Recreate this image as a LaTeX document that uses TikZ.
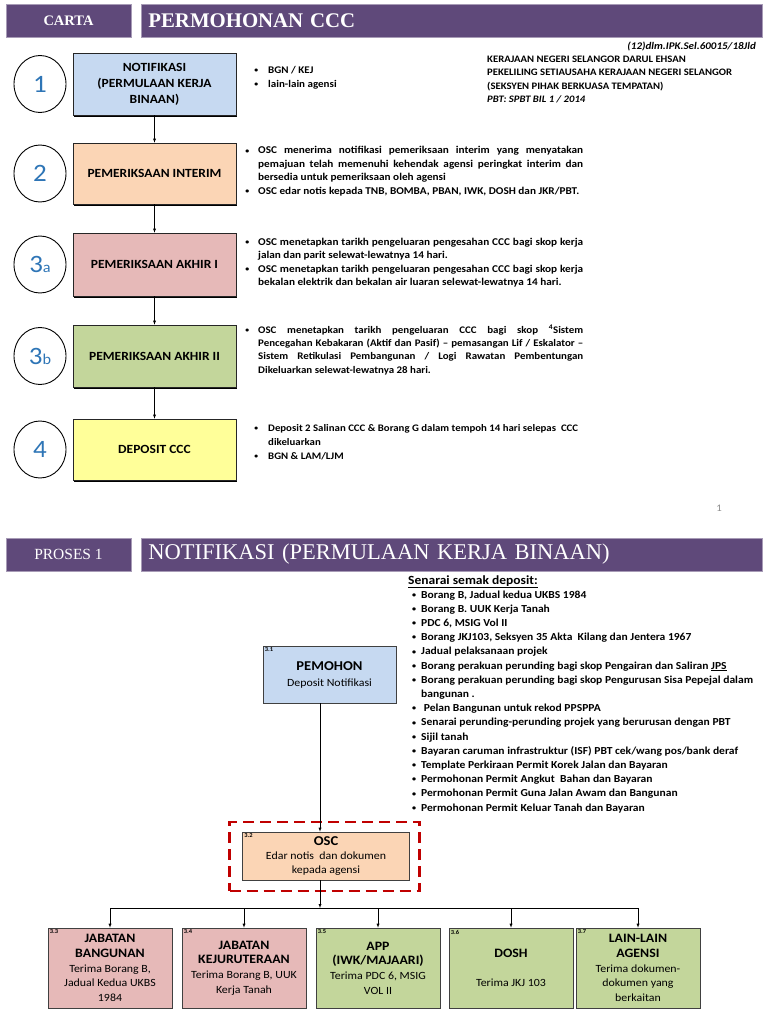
\documentclass[tikz,border=0pt]{standalone}
\usepackage{fontspec}
\setmainfont[FakeStretch=1.08]{Carlito}
\newfontfamily\hdrfont{Liberation Serif}
\usetikzlibrary{shapes.geometric,shadows}
\definecolor{hdrpurple}{RGB}{95,73,122}
\definecolor{bluebox}{RGB}{198,217,241}
\definecolor{peachbox}{RGB}{251,213,181}
\definecolor{pinkbox}{RGB}{230,185,184}
\definecolor{greenbox}{RGB}{195,214,155}
\definecolor{yellowbox}{RGB}{255,255,153}
\definecolor{numblue}{RGB}{46,117,182}
\definecolor{darkred}{RGB}{192,0,0}
\newcommand\itm[1][9pt]{\leavevmode\llap{\raisebox{0.15ex}{\scalebox{0.7}{\textbullet}}\hspace{#1}}}
\newcommand\ttl[1]{{\bfseries\fontsize{12.8}{14.6}\selectfont #1}}

\begin{document}
\begin{tikzpicture}[x=1pt, y=-1pt, >=latex]
    \tikzstyle{header}=[fill=hdrpurple, draw=hdrpurple!55!white, line width=0.8pt, inner sep=0pt, minimum height=33pt, text=white]
    \tikzstyle{stage}=[draw=black!85, line width=0.6pt, minimum width=163pt, minimum height=62pt, align=center, font=\bfseries\fontsize{12.5}{16}\selectfont, drop shadow={shadow xshift=1.2pt, shadow yshift=-1.6pt, fill=black, opacity=1}]
    \tikzstyle{num}=[ellipse, draw, line width=0.9pt, minimum width=52pt, minimum height=57pt, inner sep=0pt, text=numblue, font=\fontsize{25}{25}\selectfont]
    \tikzstyle{note}=[anchor=base west, inner sep=0pt, font=\bfseries\fontsize{10.4}{13.4}\selectfont]
    \tikzstyle{box}=[draw=black!75, line width=0.6pt, align=center, inner sep=2pt, drop shadow={shadow xshift=0.8pt, shadow yshift=-1pt, fill=black!70, opacity=1}]
    \tikzstyle{agensi}=[box, minimum width=124pt, minimum height=80pt, font=\fontsize{11}{14.6}\selectfont]
    \tikzstyle{tag}=[anchor=north west, inner sep=2pt, font=\bfseries\fontsize{6}{6}\selectfont]
    \useasboundingbox (0,0) rectangle (768,1024);
    % carta
    \node[header, minimum width=125pt, font=\hdrfont\bfseries\fontsize{14.5}{14.5}\selectfont] (carta) at (68.5,20.5) {CARTA};
    \node[header, anchor=west, inner xsep=7pt, text width=607pt, align=left, font=\hdrfont\bfseries\fontsize{20.8}{20.8}\selectfont] (judul) at (141,20.5) {PERMOHONAN CCC};
    \node[anchor=base east, inner sep=0pt, font=\bfseries\itshape\fontsize{10.2}{10.2}\selectfont] (ruj) at (756,50) {(12)dlm.IPK.Sel.60015/18Jld};
    \node[note, font=\bfseries\fontsize{9.9}{13.4}\selectfont] (pekeliling) at (487,62.5) {\parbox[t]{280pt}{KERAJAAN NEGERI SELANGOR DARUL EHSAN\\PEKELILING SETIAUSAHA KERAJAAN NEGERI SELANGOR\\(SEKSYEN PIHAK BERKUASA TEMPATAN)\\\textit{PBT: SPBT BIL 1 / 2014}}};
    \node[stage, fill=bluebox] (n1) at (154.5,84) {NOTIFIKASI\\(PERMULAAN KERJA\\BINAAN)};
    \node[stage, fill=peachbox, minimum height=61pt] (n2) at (154.5,173.5) {PEMERIKSAAN INTERIM};
    \node[stage, fill=pinkbox, minimum height=63pt] (n3a) at (154.5,264.5) {PEMERIKSAAN AKHIR I};
    \node[stage, fill=greenbox] (n3b) at (154.5,356) {PEMERIKSAAN AKHIR II};
    \node[stage, fill=yellowbox, minimum height=61pt] (n4) at (154.5,449.5) {DEPOSIT CCC};
    \node[num] (c1) at (40,84) {1};
    \node[num] (c2) at (40,173.5) {2};
    \node[num] (c3a) at (40,264.5) {3{\fontsize{15}{15}\selectfont a}};
    \node[num] (c3b) at (40,356) {3{\fontsize{15}{15}\selectfont b}};
    \node[num] (c4) at (40,449.5) {4};
    \draw[->] (n1) -- (n2);
    \draw[->] (n2) -- (n3a);
    \draw[->] (n3a) -- (n3b);
    \draw[->] (n3b) -- (n4);
    \node[note, font=\bfseries\fontsize{10.2}{14}\selectfont] (t1) at (268,73.5) {\parbox[t]{200pt}{\itm[10pt]BGN / KEJ\\\itm[10pt]lain-lain agensi}};
    \node[note] (t2) at (258,154) {\parbox[t]{325pt}{\itm OSC menerima notifikasi pemeriksaan interim yang menyatakan\linebreak pemajuan telah memenuhi kehendak agensi peringkat interim dan\linebreak bersedia untuk pemeriksaan oleh agensi\par\itm OSC edar notis kepada TNB, BOMBA, PBAN, IWK, DOSH dan JKR/PBT.}};
    \node[note] (t3a) at (258,245.5) {\parbox[t]{325pt}{\itm OSC menetapkan tarikh pengeluaran pengesahan CCC bagi skop kerja\linebreak jalan dan parit selewat-lewatnya 14 hari.\par\itm OSC menetapkan tarikh pengeluaran pengesahan CCC bagi skop kerja\linebreak bekalan elektrik dan bekalan air luaran selewat-lewatnya 14 hari.}};
    \node[note, font=\bfseries\fontsize{10.1}{13.2}\selectfont] (t3b) at (258,333.5) {\parbox[t]{325pt}{\itm OSC menetapkan tarikh pengeluaran CCC bagi skop \textsuperscript{4}Sistem\linebreak Pencegahan Kebakaran (Aktif dan Pasif) -- pemasangan Lif / Eskalator --\linebreak Sistem Retikulasi Pembangunan / Logi Rawatan Pembentungan\linebreak Dikeluarkan selewat-lewatnya 28 hari.}};
    \node[note, font=\bfseries\fontsize{10}{14}\selectfont] (t4) at (268,431.5) {\parbox[t]{320pt}{\raggedright\itm[10pt]Deposit 2 Salinan CCC \& Borang G dalam tempoh 14 hari selepas~ CCC\\dikeluarkan\par\itm[10pt]BGN \& LAM/LJM}};
    \node[text=black!45, font=\fontsize{10}{10}\selectfont] (hal) at (719,508) {1};
    % proses 1
    \node[header, minimum width=125pt, font=\hdrfont\fontsize{15.5}{15.5}\selectfont] (proses) at (68.5,554.5) {PROSES 1};
    \node[header, anchor=west, inner xsep=7pt, text width=607pt, align=left, font=\hdrfont\fontsize{22.5}{22.5}\selectfont] (tajuk) at (141,554.5) {NOTIFIKASI (PERMULAAN KERJA BINAAN)};
    \node[anchor=base west, inner sep=0pt, font=\bfseries\fontsize{12.5}{12.5}\selectfont] (senaraihd) at (408,584) {\underline{Senarai semak deposit:}};
    \node[note, font=\bfseries\fontsize{10.7}{14.2}\selectfont] (senarai) at (421,598) {\parbox[t]{345pt}{\itm[5pt]Borang B, Jadual kedua UKBS 1984\\
      \itm[5pt]Borang B. UUK Kerja Tanah\\
      \itm[5pt]PDC 6, MSIG Vol II\\
      \itm[5pt]Borang JKJ103, Seksyen 35 Akta~ Kilang dan Jentera 1967\\
      \itm[5pt]Jadual pelaksanaan projek\\
      \itm[5pt]Borang perakuan perunding bagi skop Pengairan dan Saliran \underline{JPS}\\
      \itm[5pt]Borang perakuan perunding bagi skop Pengurusan Sisa Pepejal dalam\\
      bangunan .\\
      \itm[5pt]\ Pelan Bangunan untuk rekod PPSPPA\\
      \itm[5pt]Senarai perunding-perunding projek yang berurusan dengan PBT\\
      \itm[5pt]Sijil tanah\\
      \itm[5pt]Bayaran caruman infrastruktur (ISF) PBT cek/wang pos/bank deraf\\
      \itm[5pt]Template Perkiraan Permit Korek Jalan dan Bayaran\\
      \itm[5pt]Permohonan Permit Angkut~ Bahan dan Bayaran\\
      \itm[5pt]Permohonan Permit Guna Jalan Awam dan Bangunan\\
      \itm[5pt]Permohonan Permit Keluar Tanah dan Bayaran}};
    \node[box, fill=bluebox, minimum width=133pt, minimum height=57pt, font=\fontsize{11}{16}\selectfont, label={[tag]north west:3.1}] (pemohon) at (329.5,674.5) {{\bfseries\fontsize{13.5}{16}\selectfont PEMOHON}\\Deposit Notifikasi};
    \node[box, fill=peachbox, minimum width=167pt, minimum height=48pt, font=\fontsize{11}{14}\selectfont, label={[tag]north west:3.2}] (osc) at (326,856) {{\bfseries\fontsize{13.5}{14}\selectfont OSC}\\Edar notis~ dan dokumen\\kepada agensi};
    \node[draw=darkred, line width=2.6pt, dash pattern=on 11pt off 6pt, minimum width=190pt, minimum height=69pt, inner sep=0pt] (bingkai) at (324.5,856.5) {};
    \node[agensi, fill=pinkbox, label={[tag]north west:3.3}] (jb) at (110,968) {\ttl{JABATAN}\\\ttl{BANGUNAN}\\Terima Borang B,\\Jadual Kedua UKBS\\1984};
    \node[agensi, fill=pinkbox, label={[tag]north west:3.4}] (jk) at (244,968) {\ttl{JABATAN}\\\ttl{KEJURUTERAAN}\\Terima Borang B, UUK\\Kerja Tanah};
    \node[agensi, fill=greenbox, label={[tag]north west:3.5}] (app) at (378,968) {\ttl{APP}\\\ttl{(IWK/MAJAARI)}\\Terima PDC 6, MSIG\\VOL II};
    \node[agensi, fill=greenbox, label={[tag]north west:3.6}] (dosh) at (511,968) {\ttl{DOSH}\\[15pt]Terima JKJ 103};
    \node[agensi, fill=greenbox, label={[tag]north west:3.7}] (lain) at (638,968) {\ttl{LAIN-LAIN}\\\ttl{AGENSI}\\Terima dokumen-\\dokumen yang\\berkaitan};
    \coordinate (bus) at (320,908);
    \draw[->] (pemohon.south -| bus) -- (osc.north -| bus);
    \draw[->] (osc.south -| bus) -- (bus);
    \draw (jb.north |- bus) -- (lain.north |- bus);
    \foreach \b in {jb,jk,app,dosh,lain} \draw[->] (\b.north |- bus) -- (\b.north);
  \end{tikzpicture}
\end{document}
